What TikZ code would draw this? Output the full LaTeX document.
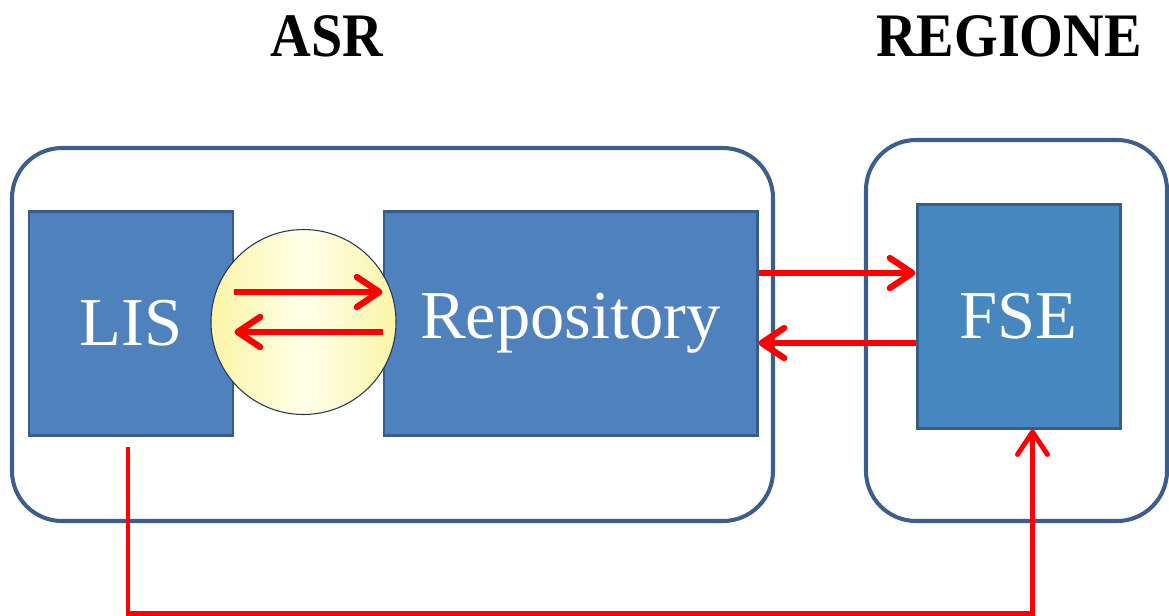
\documentclass[tikz,border=0pt]{standalone}
\usepackage{fontspec}
\setmainfont{Liberation Serif}
\usetikzlibrary{calc}
\usetikzlibrary{arrows.meta}

\definecolor{boxblue}{HTML}{4F81BD}
\definecolor{fseblue}{HTML}{4587BE}
\definecolor{edgeblue}{HTML}{385D8A}
\definecolor{frameblue}{HTML}{3B5E8C}
\definecolor{ylw}{HTML}{FAF5A6}
\definecolor{ylwlight}{HTML}{FFFFEA}

\begin{document}
\begin{tikzpicture}[x=0.2mm, y=-0.2mm,
    block/.style={draw=edgeblue, line width=1.7pt, fill=boxblue, text=white,
        minimum height=44.8mm, font=\fontsize{39}{39}\selectfont},
    frame/.style={draw=frameblue, line width=2.3pt, rounded corners=10mm},
    head/.style={font=\fontsize{32}{32}\selectfont\bfseries},
    arr/.style={red, line width=3.6pt, -{Straight Barb[length=4.5mm, width=6mm, round]}},
    ]
    \useasboundingbox (0,0) rectangle (1169,615);

    % headings
    \node[head] (asr) at (327, 36) {\scalebox{1}[1.1]{ASR}};
    \node[head] (regione) at (1009, 36) {\scalebox{1}[1.1]{REGIONE}};

    % frames
    \draw[frame] (12, 148) rectangle (773, 521);
    \draw[frame] (866, 140) rectangle (1167, 521);

    % blocks
    \node[block, minimum width=40.8mm] (lis) at (131, 323) {LIS};
    \node[block, minimum width=74.6mm] (repo) at (570.5, 323) {Repository};
    \node[block, fill=fseblue, minimum width=40.6mm] (fse) at (1018.5, 316) {FSE};

    \node[circle, draw=edgeblue!60!black, line width=0.6pt, minimum size=37mm, inner sep=0pt,
        left color=ylw, right color=ylw, middle color=ylwlight] (link) at (303.5, 322) {};

    % arrows
    \draw[arr] ($(lis.east)+(0,-31)$) coordinate (l1) -- (l1 -| repo.west);
    \draw[arr] ($(repo.west)+(0,9)$) coordinate (l2) -- (l2 -| lis.east);
    \draw[arr] ($(repo.east)+(0,-50)$) coordinate (r1) -- (r1 -| fse.west);
    \draw[arr] ($(fse.west)+(0,27)$) coordinate (r2) -- (r2 -| repo.east);
    \draw[arr, line width=2.8pt] ($(lis.south)+(-3,10)$) -- ++(0,167) -| ($(fse.south)+(14,0)$);

\end{tikzpicture}
\end{document}
